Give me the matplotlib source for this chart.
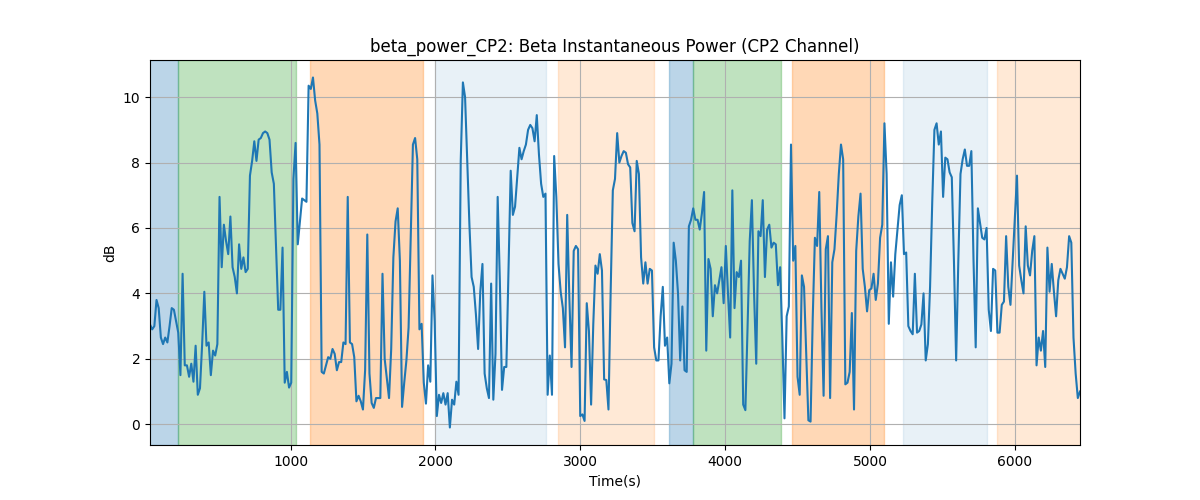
import numpy as np
import matplotlib
matplotlib.use("Agg")
import matplotlib.pyplot as plt

title = "beta_power_CP2: Beta Instantaneous Power (CP2 Channel)"
xlabel = "Time(s)"
ylabel = "dB"

t_start = 30
t_step = 15

power_db = [
    # 30 s - ~1330 s
    3.05, 2.9, 3.0, 3.8, 3.55, 2.65, 2.45, 2.65, 2.5, 3.0,
    3.55, 3.5, 3.15, 2.8, 1.5, 4.6, 1.8, 1.8, 1.45, 1.85,
    1.3, 2.4, 0.9, 1.1, 2.45, 4.05, 2.4, 2.5, 1.5, 2.25,
    2.1, 2.45, 6.95, 4.8, 6.1, 5.6, 5.2, 6.35, 4.8, 4.5,
    4.0, 5.5, 4.75, 5.1, 4.65, 4.75, 7.6, 8.05, 8.65, 8.05,
    8.7, 8.75, 8.9, 8.95, 8.9, 8.7, 7.7, 7.35, 5.4, 3.5,
    3.5, 5.4, 1.27, 1.6, 1.12, 1.27, 7.5, 8.6, 5.5, 6.2,
    6.9, 6.85, 6.8, 10.35, 10.25, 10.6, 9.9, 9.5, 8.55, 1.6,
    1.55, 1.8, 2.05, 2.0, 2.3, 2.15, 1.65,
    # ~1345 s - ~2650 s
    1.9, 1.9, 2.5, 2.45, 6.95, 2.5, 2.45, 2.05, 0.7, 0.87,
    0.7, 0.45, 1.65, 5.8, 1.55, 0.65, 0.5, 0.8, 0.8, 0.8,
    4.6, 2.0, 1.4, 0.8, 2.3, 5.1, 6.2, 6.6, 5.0, 0.53,
    1.27, 1.95, 2.95, 5.7, 8.55, 8.75, 8.1, 2.9, 3.07, 1.27,
    0.63, 1.8, 1.3, 4.55, 3.15, 0.25, 0.9, 0.65, 0.95, 0.6,
    0.95, -0.1, 0.75, 0.6, 1.3, 0.9, 8.05, 10.45, 10.0, 8.05,
    6.1, 4.5, 4.2, 3.35, 2.3, 4.05, 4.9, 1.55, 1.1, 0.8,
    4.3, 0.75, 2.15, 6.95, 4.4, 1.05, 1.75, 1.75, 4.8, 7.75,
    6.4, 6.65, 7.55, 8.45, 8.1, 8.35, 8.55, 9.0,
    # ~2660 s - ~3960 s
    9.15, 9.05, 8.65, 9.45, 8.25, 7.35, 6.95, 7.05, 0.9, 2.1,
    0.9, 8.2, 6.95, 4.9, 4.05, 3.55, 2.35, 6.4, 3.85, 1.75,
    5.3, 5.45, 5.35, 0.25, 0.3, 0.1, 3.7, 2.85, 0.6, 3.05,
    4.85, 4.6, 5.2, 4.7, 1.37, 1.35, 0.45, 4.05, 7.15, 7.5,
    8.9, 8.0, 8.2, 8.35, 8.3, 7.95, 7.85, 6.15, 5.9, 8.05,
    7.65, 5.1, 4.3, 4.95, 4.3, 4.75, 4.7, 2.35, 1.95, 1.95,
    3.3, 4.2, 2.4, 2.65, 1.25, 1.85, 5.55, 5.0, 4.0, 1.95,
    3.6, 1.65, 1.6, 6.05, 6.25, 6.6, 6.25, 6.25, 5.95, 6.45,
    7.1, 2.25, 5.05, 4.75, 3.3, 4.25, 4.0, 4.4,
    # ~3975 s - ~5265 s
    4.8, 3.7, 5.45, 4.0, 2.65, 7.15, 3.55, 4.65, 4.5, 5.0,
    0.6, 0.43, 2.95, 5.6, 6.85, 4.0, 1.85, 5.9, 5.75, 6.85,
    4.5, 5.95, 6.1, 5.4, 5.55, 5.5, 4.25, 4.8, 2.65, 0.18,
    3.3, 3.6, 8.55, 5.0, 5.45, 1.45, 0.9, 4.55, 4.2, 2.15,
    0.12, 0.08, 3.25, 5.7, 5.45, 7.1, 3.55, 0.87, 5.35, 5.75,
    0.8, 4.95, 5.35, 6.4, 7.65, 8.55, 8.1, 1.22, 1.27, 1.6,
    3.4, 0.45, 5.3, 6.35, 7.05, 4.75, 4.2, 3.45, 4.1, 4.15,
    4.6, 3.8, 4.3, 5.7, 6.1, 9.2, 7.65, 3.07, 4.95, 3.9,
    5.2, 5.95, 6.7, 7.0, 5.2, 5.25, 3.0,
    # ~5280 s - 6450 s
    2.85, 2.75, 4.6, 2.8, 2.85, 3.05, 4.0, 1.95, 2.45, 4.2,
    6.8, 9.0, 9.2, 8.55, 8.95, 6.95, 8.15, 8.1, 7.7, 7.55,
    4.95, 1.95, 5.0, 7.65, 8.1, 8.4, 7.9, 7.9, 8.35, 5.0,
    2.35, 6.6, 6.15, 5.7, 5.65, 6.0, 3.5, 2.85, 4.75, 4.7,
    2.8, 2.8, 3.65, 3.75, 5.75, 4.2, 3.65, 4.95, 6.25, 7.6,
    4.85, 4.4, 4.0, 6.05, 4.85, 4.55, 5.3, 5.75, 1.8, 2.65,
    2.25, 2.85, 1.75, 5.4, 4.05, 4.9, 4.05, 3.3, 4.4, 4.75,
    4.6, 4.45, 4.8, 5.75, 5.55, 2.65, 1.55, 0.8, 1.0,
]

# shaded stage intervals (start s, end s)
span_starts = [0, 225, 1135, 1995, 2845, 3610, 3775, 4465, 5225, 5880]
span_ends = [225, 1040, 1915, 2765, 3510, 3775, 4385, 5100, 5810, 6470]
span_colors = ["tab:blue", "tab:green", "tab:orange", "tab:blue", "tab:orange",
               "tab:blue", "tab:green", "tab:orange", "tab:blue", "tab:orange"]
span_alphas = [0.3, 0.3, 0.3, 0.1, 0.17, 0.3, 0.3, 0.3, 0.1, 0.17]

values = np.array(power_db)
times = t_start + t_step * np.arange(len(values))

fig, ax = plt.subplots(figsize=(12, 5), dpi=100)
for s, e, c, a in zip(span_starts, span_ends, span_colors, span_alphas):
    ax.axvspan(s, e, color=c, alpha=a)
ax.plot(times, values, color="tab:blue", linewidth=1.5)
ax.set_xlim(times[0], times[-1])
ax.set_title(title)
ax.set_xlabel(xlabel)
ax.set_ylabel(ylabel)
ax.grid(True)
fig.savefig("out.png", dpi=100)
